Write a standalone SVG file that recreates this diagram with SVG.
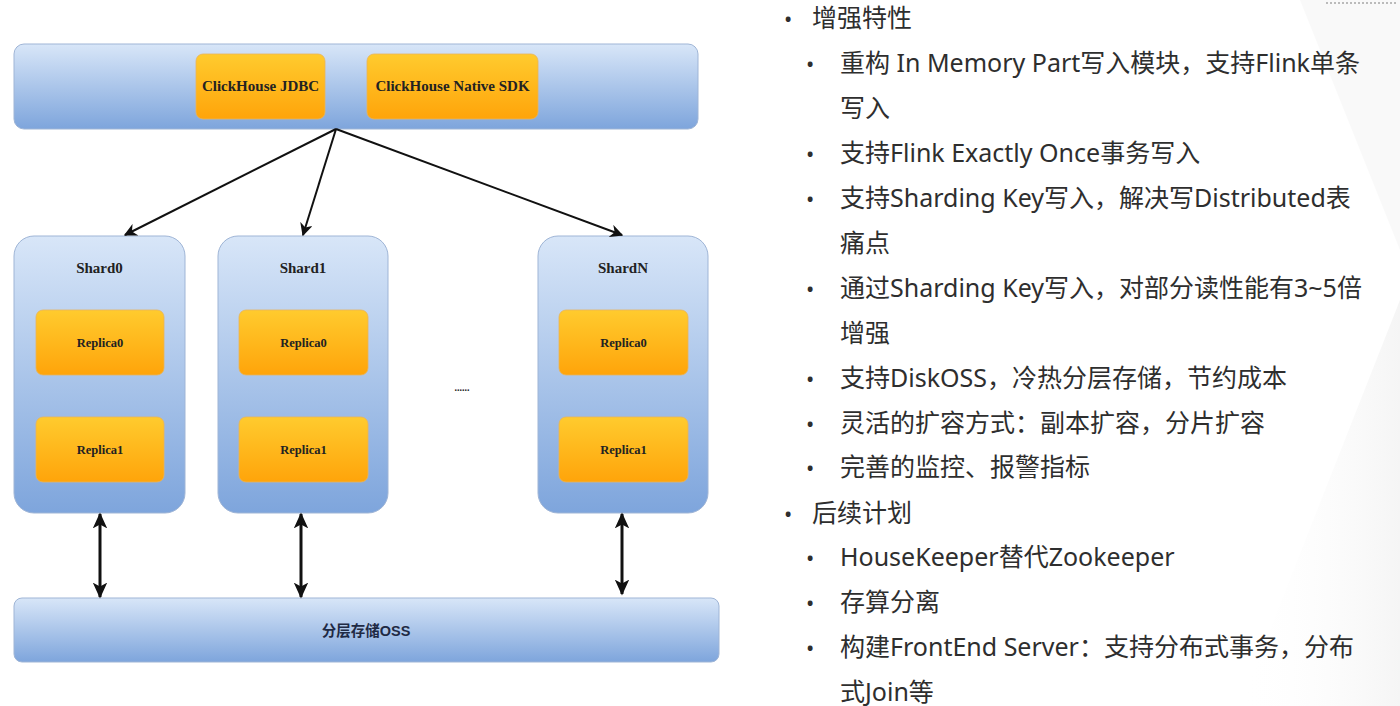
<svg xmlns="http://www.w3.org/2000/svg" width="1400" height="706" viewBox="0 0 1400 706">
<defs>
<linearGradient id="blue" x1="0" y1="0" x2="0" y2="1">
<stop offset="0" stop-color="#d8e6f8"/>
<stop offset="1" stop-color="#7ea5dc"/>
</linearGradient>
<linearGradient id="orange" x1="0" y1="0" x2="0" y2="1">
<stop offset="0" stop-color="#ffcb2e"/>
<stop offset="1" stop-color="#ffa40a"/>
</linearGradient>
<linearGradient id="bg" x1="0" y1="0" x2="1" y2="0">
<stop offset="0" stop-color="#ffffff" stop-opacity="0"/>
<stop offset="1" stop-color="#e6e6e6" stop-opacity="0.8"/>
</linearGradient>
<marker id="ah2" viewBox="0 0 10 10" refX="9" refY="5" markerWidth="13" markerHeight="13" orient="auto-start-reverse" markerUnits="userSpaceOnUse">
<path d="M0,0 L10,5 L0,10 L3,5 z" fill="#111"/>
</marker>
<marker id="ah3" viewBox="0 0 10 10" refX="9" refY="5" markerWidth="16" markerHeight="16" orient="auto-start-reverse" markerUnits="userSpaceOnUse">
<path d="M0,0.5 L10,5 L0,9.5 L2.5,5 z" fill="#111"/>
</marker>
<style>
.bl{fill:url(#blue);stroke:#9fb5d6;stroke-width:1}
.or{fill:url(#orange);stroke:#e8b45a;stroke-width:0.8}
.lab{font-family:"Liberation Serif",serif;font-weight:bold;fill:#222;text-anchor:middle}
.txt{font-family:"Noto Sans","Noto Sans CJK SC",sans-serif;font-size:25px;fill:#2e2e2e}
.dot{font-family:"Noto Sans",sans-serif;font-size:22px;fill:#2e2e2e}
.con{stroke:#111;stroke-width:2;fill:none}
.dbl{stroke:#111;stroke-width:3;fill:none}
</style>
</defs>
<rect width="1400" height="706" fill="#ffffff"/>
<polygon points="1240,706 1400,300 1400,706" fill="url(#bg)" opacity="0.5"/>
<polygon points="1300,0 1400,0 1400,250" fill="#f3f3f3" opacity="0.5"/>
<line x1="1326" y1="3" x2="1396" y2="3" stroke="#bbb" stroke-width="2" stroke-dasharray="2,2"/>

<g id="client">
<rect x="14" y="44" width="684" height="85" rx="10" class="bl"/>
<g id="jdbc"><rect x="196" y="54" width="129" height="65" rx="7" class="or"/>
<text x="260.5" y="91" class="lab" font-size="15">ClickHouse JDBC</text></g>
<g id="sdk"><rect x="367" y="54" width="171" height="65" rx="7" class="or"/>
<text x="452.5" y="91" class="lab" font-size="15">ClickHouse Native SDK</text></g>
</g>

<g id="shard0">
<rect x="14" y="236" width="171" height="277" rx="20" class="bl"/>
<text x="99.5" y="273" class="lab" font-size="15">Shard0</text>
<rect x="36" y="310" width="128" height="65" rx="7" class="or"/>
<text x="100" y="347" class="lab" font-size="12.5">Replica0</text>
<rect x="36" y="417" width="128" height="65" rx="7" class="or"/>
<text x="100" y="454" class="lab" font-size="12.5">Replica1</text>
</g>
<g id="shard1">
<rect x="218" y="236" width="170" height="277" rx="20" class="bl"/>
<text x="303" y="273" class="lab" font-size="15">Shard1</text>
<rect x="239" y="310" width="129" height="65" rx="7" class="or"/>
<text x="303.5" y="347" class="lab" font-size="12.5">Replica0</text>
<rect x="239" y="417" width="129" height="65" rx="7" class="or"/>
<text x="303.5" y="454" class="lab" font-size="12.5">Replica1</text>
</g>
<g id="shardN">
<rect x="538" y="236" width="170" height="277" rx="20" class="bl"/>
<text x="623" y="273" class="lab" font-size="15">ShardN</text>
<rect x="559" y="310" width="129" height="65" rx="7" class="or"/>
<text x="623.5" y="347" class="lab" font-size="12.5">Replica0</text>
<rect x="559" y="417" width="129" height="65" rx="7" class="or"/>
<text x="623.5" y="454" class="lab" font-size="12.5">Replica1</text>
</g>
<g id="ellipsis"><text x="462" y="391" class="lab" font-size="10" font-weight="normal">......</text></g>

<g id="oss">
<rect x="14" y="598" width="705" height="64" rx="8" class="bl"/>
<text x="366" y="636" font-family="Liberation Sans,Noto Sans CJK SC,sans-serif" font-weight="bold" font-size="14.5" fill="#1f2a44" text-anchor="middle">分层存储OSS</text>
</g>

<g id="connectors">
<line x1="336" y1="129" x2="125" y2="235" class="con" marker-end="url(#ah2)"/>
<line x1="336" y1="129" x2="303" y2="235" class="con" marker-end="url(#ah2)"/>
<line x1="336" y1="129" x2="622" y2="235" class="con" marker-end="url(#ah2)"/>
<line x1="100" y1="514" x2="100" y2="597" class="dbl" marker-start="url(#ah3)" marker-end="url(#ah3)"/>
<line x1="301" y1="514" x2="301" y2="597" class="dbl" marker-start="url(#ah3)" marker-end="url(#ah3)"/>
<line x1="622" y1="514" x2="622" y2="594" class="dbl" marker-start="url(#ah3)" marker-end="url(#ah3)"/>
</g>

<g id="notes">
<text x="784" y="27" class="dot">•</text><text x="812" y="27" class="txt">增强特性</text>
<text x="806" y="72" class="dot">•</text><text x="840" y="72" class="txt">重构 In Memory Part写入模块，支持Flink单条</text>
<text x="840" y="117" class="txt">写入</text>
<text x="806" y="162" class="dot">•</text><text x="840" y="162" class="txt">支持Flink Exactly Once事务写入</text>
<text x="806" y="207" class="dot">•</text><text x="840" y="207" class="txt">支持Sharding Key写入，解决写Distributed表</text>
<text x="840" y="252" class="txt">痛点</text>
<text x="806" y="297" class="dot">•</text><text x="840" y="297" class="txt">通过Sharding Key写入，对部分读性能有3~5倍</text>
<text x="840" y="342" class="txt">增强</text>
<text x="806" y="387" class="dot">•</text><text x="840" y="387" class="txt">支持DiskOSS，冷热分层存储，节约成本</text>
<text x="806" y="432" class="dot">•</text><text x="840" y="432" class="txt">灵活的扩容方式：副本扩容，分片扩容</text>
<text x="806" y="476" class="dot">•</text><text x="840" y="476" class="txt">完善的监控、报警指标</text>
<text x="784" y="522" class="dot">•</text><text x="812" y="522" class="txt">后续计划</text>
<text x="806" y="566" class="dot">•</text><text x="840" y="566" class="txt">HouseKeeper替代Zookeeper</text>
<text x="806" y="611" class="dot">•</text><text x="840" y="611" class="txt">存算分离</text>
<text x="806" y="656" class="dot">•</text><text x="840" y="656" class="txt">构建FrontEnd Server：支持分布式事务，分布</text>
<text x="840" y="701" class="txt">式Join等</text>
</g>
</svg>
